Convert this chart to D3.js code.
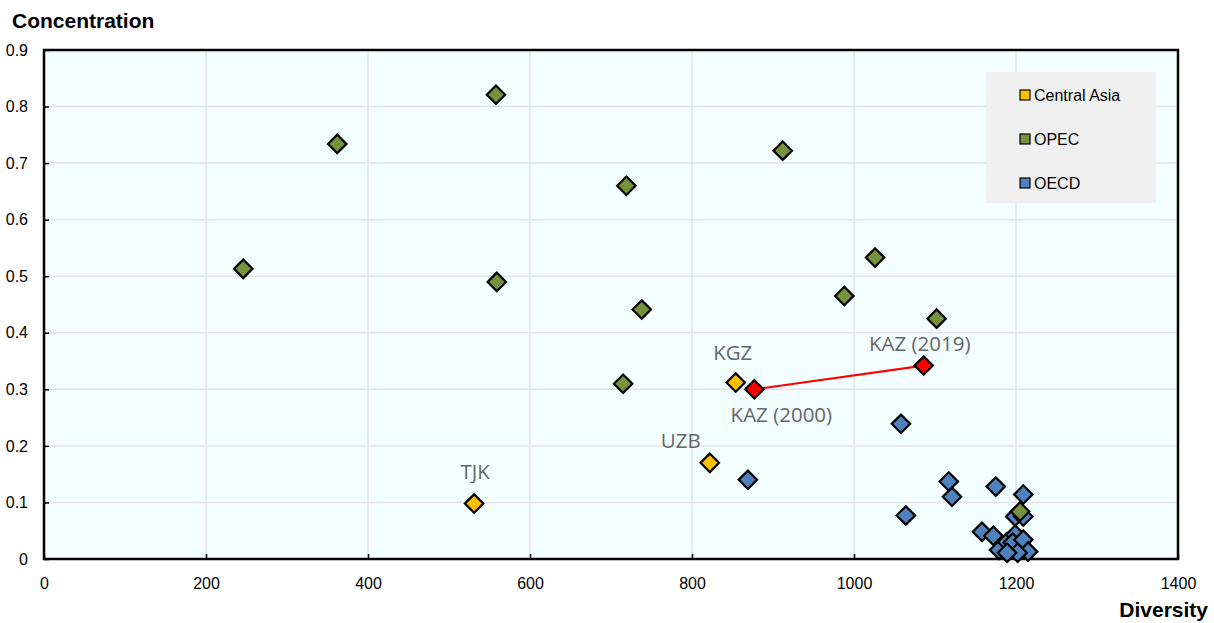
<!DOCTYPE html>
<html>
<head>
<meta charset="utf-8">
<script src="https://cdn.jsdelivr.net/npm/d3@7"></script>
<style>
  html, body { margin: 0; padding: 0; background: #fff; }
  svg { display: block; }
</style>
</head>
<body>
<svg id="chart" width="1214" height="623"></svg>
<script>
// Diversity (x) vs Concentration (y) by country group
const xTicks = [0, 200, 400, 600, 800, 1000, 1200, 1400];
const yTicks = [0, 0.1, 0.2, 0.3, 0.4, 0.5, 0.6, 0.7, 0.8, 0.9];

const oecd = [
  [1058, 0.239], [869, 0.140], [1117, 0.137], [1121, 0.110], [1064, 0.077],
  [1175, 0.128], [1209, 0.114], [1199, 0.075], [1209, 0.075],
  [1158, 0.048], [1172, 0.041], [1179, 0.016], [1189, 0.030], [1199, 0.043],
  [1196, 0.029], [1209, 0.034], [1215, 0.013], [1202, 0.011], [1189, 0.011]
];
const opec = [
  [246, 0.513], [362, 0.734], [558, 0.821], [559, 0.490], [719, 0.660],
  [738, 0.441], [715, 0.310], [912, 0.722], [988, 0.465], [1026, 0.533],
  [1102, 0.425], [1205, 0.084]
];
const centralAsia = [
  { name: "TJK", x: 531, y: 0.098 },
  { name: "UZB", x: 822, y: 0.170 },
  { name: "KGZ", x: 854, y: 0.312 }
];
const kazakhstan = [
  { name: "KAZ (2000)", x: 877, y: 0.300 },
  { name: "KAZ (2019)", x: 1086, y: 0.342 }
];
const legendItems = [
  { label: "Central Asia", color: "#FFC000" },
  { label: "OPEC", color: "#76923C" },
  { label: "OECD", color: "#4F81BD" }
];

const svg = d3.select("#chart");
const margin = { left: 44, top: 50, right: 36, bottom: 64 };
const W = 1214, H = 623;
const x = d3.scaleLinear().domain([0, 1400]).range([margin.left, W - margin.right]);
const y = d3.scaleLinear().domain([0, 0.9]).range([H - margin.bottom, margin.top]);

// plot background
svg.append("rect")
  .attr("x", x(0)).attr("y", y(0.9))
  .attr("width", x(1400) - x(0)).attr("height", y(0) - y(0.9))
  .attr("fill", "#F3FFFF");

// gridlines
svg.append("g").selectAll("line").data(xTicks.slice(1, -1)).join("line")
  .attr("x1", d => x(d)).attr("x2", d => x(d))
  .attr("y1", y(0)).attr("y2", y(0.9))
  .attr("stroke", "#E3E3E3").attr("stroke-width", 1.5);
svg.append("g").selectAll("line").data(yTicks.slice(1, -1)).join("line")
  .attr("x1", x(0)).attr("x2", x(1400))
  .attr("y1", d => y(d)).attr("y2", d => y(d))
  .attr("stroke", "#E3E3E3").attr("stroke-width", 1.5);

// axes with inward ticks
const xAxis = svg.append("g").attr("transform", `translate(0,${y(0)})`)
  .call(d3.axisBottom(x).tickValues(xTicks).tickSizeInner(-5).tickSizeOuter(0).tickPadding(19).tickFormat(d3.format("d")));
const yAxis = svg.append("g").attr("transform", `translate(${x(0)},0)`)
  .call(d3.axisLeft(y).tickValues(yTicks).tickSizeInner(-5).tickSizeOuter(0).tickPadding(16)
    .tickFormat(d => d === 0 ? "0" : d3.format(".1f")(d)));
[xAxis, yAxis].forEach(a => {
  a.select(".domain").remove();
  a.selectAll(".tick line").attr("stroke", "#000").attr("stroke-width", 1.5);
  a.selectAll(".tick text").attr("font-family", "Liberation Sans, Arial, sans-serif")
    .attr("font-size", 16).attr("fill", "#000");
});
xAxis.selectAll(".tick text").attr("dy", "0.71em");

// frame
svg.append("rect")
  .attr("x", x(0)).attr("y", y(0.9))
  .attr("width", x(1400) - x(0)).attr("height", y(0) - y(0.9))
  .attr("fill", "none").attr("stroke", "#000").attr("stroke-width", 2.5);

// axis titles
svg.append("text").attr("x", 12).attr("y", 28)
  .attr("font-family", "Liberation Sans, Arial, sans-serif").attr("font-weight", "bold")
  .attr("font-size", 21).attr("fill", "#000").text("Concentration");
svg.append("text").attr("x", 1208).attr("y", 617).attr("text-anchor", "end")
  .attr("font-family", "Liberation Sans, Arial, sans-serif").attr("font-weight", "bold")
  .attr("font-size", 21).attr("fill", "#000").text("Diversity");

// diamond marker
const diamond = d3.symbol().type(d3.symbolSquare).size(170);
function drawPoints(data, color, gx, gy) {
  svg.append("g").selectAll("path").data(data).join("path")
    .attr("d", diamond)
    .attr("transform", d => `translate(${x(gx(d))},${y(gy(d))}) rotate(45)`)
    .attr("fill", color).attr("stroke", "#000").attr("stroke-width", 2.2)
    .attr("stroke-linejoin", "miter");
}

drawPoints(oecd, "#4F81BD", d => d[0], d => d[1]);
drawPoints(opec, "#76923C", d => d[0], d => d[1]);
drawPoints(centralAsia, "#FFC000", d => d.x, d => d.y);

// Kazakhstan trajectory
svg.append("line")
  .attr("x1", x(kazakhstan[0].x)).attr("y1", y(kazakhstan[0].y))
  .attr("x2", x(kazakhstan[1].x)).attr("y2", y(kazakhstan[1].y))
  .attr("stroke", "#FF0000").attr("stroke-width", 2.2);
drawPoints(kazakhstan, "#FF0000", d => d.x, d => d.y);

// country labels
const labelStyle = s => s.attr("font-family", "Open Sans, Noto Sans, sans-serif")
  .attr("font-size", 20.5).attr("fill", "#666").attr("text-anchor", "middle");
const labelOffsets = {
  "TJK": [1, -25], "UZB": [-29, -15], "KGZ": [-3, -23],
  "KAZ (2000)": [27, 33], "KAZ (2019)": [-4, -15]
};
svg.append("g").selectAll("text").data(centralAsia.concat(kazakhstan)).join("text")
  .call(labelStyle)
  .attr("x", d => x(d.x) + labelOffsets[d.name][0])
  .attr("y", d => y(d.y) + labelOffsets[d.name][1])
  .text(d => d.name);

// legend
const lg = svg.append("g").attr("transform", "translate(986,72)");
lg.append("rect").attr("width", 170).attr("height", 131).attr("fill", "#F0F0F0");
const li = lg.selectAll("g").data(legendItems).join("g")
  .attr("transform", (d, i) => `translate(34,${23 + i * 44})`);
li.append("rect").attr("x", 0).attr("y", -5).attr("width", 10).attr("height", 10)
  .attr("fill", d => d.color).attr("stroke", "#000").attr("stroke-width", 1.2);
li.append("text").attr("x", 14).attr("y", 0).attr("dy", "0.35em")
  .attr("font-family", "Liberation Sans, Arial, sans-serif").attr("font-size", 16)
  .attr("fill", "#000").text(d => d.label);
</script>
</body>
</html>
